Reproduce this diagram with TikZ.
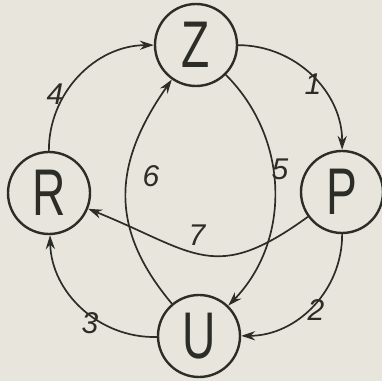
\documentclass[tikz,border=0pt]{standalone}
\usepackage{fontspec}
\usetikzlibrary{arrows.meta}
\newfontfamily\statefont[FakeStretch=0.7]{Liberation Sans}
\newfontfamily\numfont{Liberation Sans}
\definecolor{paper}{RGB}{232,230,220}
\definecolor{ink}{RGB}{45,45,40}
\begin{document}
\begin{tikzpicture}[x=0.5pt, y=0.5pt, >={Stealth[length=7pt,width=4.6pt]},
		state/.style={draw=ink, text=ink, circle, line width=1.2pt, minimum size=41pt, inner sep=0pt, font=\statefont\fontsize{33}{33}\selectfont},
		edge/.style={->, draw=ink, line width=0.85pt},
		num/.style={text=ink, font=\numfont\itshape\fontsize{15}{15}\selectfont}]
	\fill[paper] (0,0) rectangle (382,381);
	\useasboundingbox (0,0) rectangle (382,381);
	% 1. four states
	\node[state] (Z) at (196,336) {Z};
	\node[state] (P) at (342,189) {P};
	\node[state] (U) at (199,45) {U};
	\node[state] (R) at (49,188) {R};
	
	% 2. outer ring, clockwise
	\draw[edge] (Z) to[bend left=45] (P);
	\draw[edge] (P) to[bend left=45] (U);
	\draw[edge] (U) to[bend left=45] (R);
	\draw[edge] (R) to[bend left=45] (Z);
	
	% 3. inner links
	\draw[edge] (Z) to[out=-45, in=46, looseness=1.0] (U);
	\draw[edge] (U) to[out=130, in=-125, looseness=1.15] (Z);
	\draw[edge] (P) to[out=216, in=-22, looseness=1.35] (R);
	
	% 4. transition numbers
	\node[num] (n1) at (313,297) {1};
	\node[num] (n2) at (316,71) {2};
	\node[num] (n3) at (90,58) {3};
	\node[num] (n4) at (55,287) {4};
	\node[num] (n5) at (280,212) {5};
	\node[num] (n6) at (151,205) {6};
	\node[num] (n7) at (197,146) {7};
\end{tikzpicture}
\end{document}
